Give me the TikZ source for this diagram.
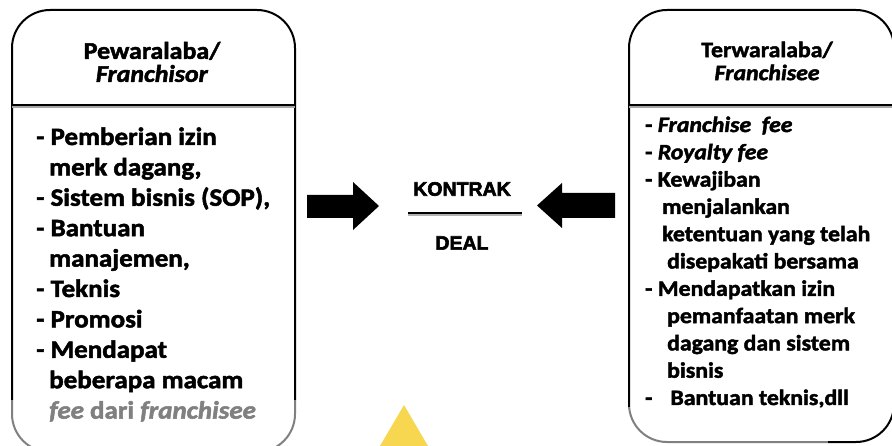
\documentclass[tikz,border=0pt]{standalone}
\usepackage{fontspec}
\setmainfont{Carlito}[FakeStretch=1.08, BoldFeatures={FakeBold=2}, BoldItalicFeatures={FakeBold=2}]
\newfontfamily\kfont{Liberation Sans}[BoldFeatures={FakeBold=3}]
\definecolor{triyellow}{RGB}{247,214,80}
\begin{document}
\begin{tikzpicture}[x=1pt,y=-1pt,
  boxline/.style={draw=black, line width=2pt, rounded corners=38pt},
  divline/.style={draw=black, line width=2pt},
  divshadow/.style={draw=black!35, line width=2pt},
  itemL/.style={anchor=base west, inner sep=0pt, font=\fontsize{25}{29}\selectfont\bfseries},
  itemR/.style={anchor=base west, inner sep=0pt, font=\fontsize{22}{27}\selectfont\bfseries},
  headL/.style={align=center, inner sep=0pt, font=\fontsize{24}{23}\selectfont\bfseries},
  headR/.style={align=center, inner sep=0pt, font=\fontsize{22}{23}\selectfont\bfseries},
  midtext/.style={inner sep=0pt, font=\kfont\fontsize{19.5}{22}\selectfont\bfseries}]
\useasboundingbox (0,0) rectangle (892,446);
\fill[white] (0,0) rectangle (892,446);

% left box
\draw[boxline] (12,10) rectangle (295,452);
\draw[divshadow] (12,107.5) -- (295,107.5);
\draw[divline] (12,105) -- (295,105);
\node[headL] (hl) at (152,62) {Pewaralaba/\\\textit{Franchisor}};

\node[itemL] (l1) at (36,145) {- Pemberian izin};
\node[itemL] (l2) at (49,175.4) {merk dagang,};
\node[itemL] (l3) at (36,205.8) {- Sistem bisnis (SOP),};
\node[itemL] (l4) at (36,236.2) {- Bantuan};
\node[itemL] (l5) at (49,266.6) {manajemen,};
\node[itemL] (l6) at (36,297) {- Teknis};
\node[itemL] (l7) at (36,327.4) {- Promosi};
\node[itemL] (l8) at (36,357.8) {- Mendapat};
\node[itemL] (l9) at (49,388.2) {beberapa macam};
\node[itemL] (l10) at (49,418.6) {\textit{fee} dari \textit{franchisee}};

% right box
\draw[boxline] (629,10) rectangle (894,442);
\draw[divshadow] (629,107.5) -- (894,107.5);
\draw[divline] (629,105) -- (894,105);
\node[headR] (hr) at (767,61) {Terwaralaba/\\\textit{Franchisee}};

\node[itemR] (r1) at (645,132) {- \textit{Franchise\ \ fee}};
\node[itemR] (r2) at (645,159.3) {- \textit{Royalty fee}};
\node[itemR] (r3) at (645,186.6) {- Kewajiban};
\node[itemR] (r4) at (662,213.9) {menjalankan};
\node[itemR] (r5) at (662,241.2) {ketentuan yang telah};
\node[itemR] (r6) at (667,268.5) {disepakati bersama};
\node[itemR] (r7) at (645,295.8) {- Mendapatkan izin};
\node[itemR] (r8) at (667,323.1) {pemanfaatan merk};
\node[itemR] (r9) at (667,350.4) {dagang dan sistem};
\node[itemR] (r10) at (667,377.7) {bisnis};
\node[itemR] (r11) at (645,405) {-\hspace{18pt}Bantuan teknis,dll};

% block arrows
\fill[black] (307,195) -- (353,195) -- (353,182) -- (379,206) -- (353,230) -- (353,218) -- (307,218) -- cycle;
\fill[black] (615,193) -- (562,193) -- (562,183) -- (537,205.5) -- (562,228) -- (562,218) -- (615,218) -- cycle;

% centre
\node[midtext] (kontrak) at (462,189) {KONTRAK};
\node[midtext] (deal) at (462,243) {DEAL};
\coordinate (fl) at (408,213);
\coordinate (fr) at (522,213);
\draw[black!30, line width=2.5pt] ([yshift=-2pt]fl) -- ([yshift=-2pt]fr);
\draw[black, line width=2.5pt] (fl) -- (fr);

% fade at the bottom
\fill[white, opacity=0.5] (0,400) rectangle (600,446);
\fill[white, opacity=0.5] (600,407) rectangle (828,446);

% watermark triangle
\fill[triyellow] (404,405) -- (428,446) -- (380,446) -- cycle;
\end{tikzpicture}
\end{document}
